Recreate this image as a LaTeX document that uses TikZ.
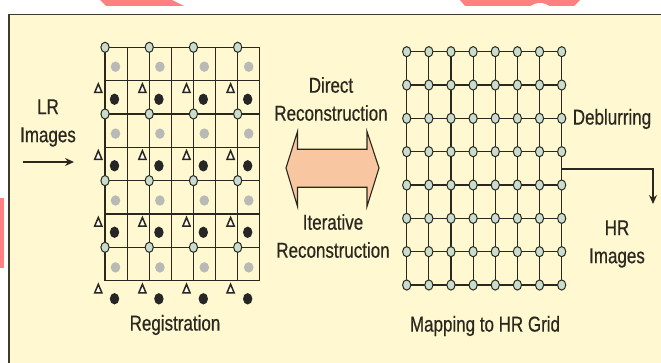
\documentclass[tikz,border=0pt]{standalone}
\usepackage{fontspec}
\setmainfont{Liberation Sans}[FakeStretch=0.79,FakeBold=0.5]
\usetikzlibrary{arrows.meta}
\definecolor{bg}{HTML}{FFF8D0}
\definecolor{frm}{HTML}{3E3A2C}
\definecolor{ink}{HTML}{2A271F}
\definecolor{gnode}{HTML}{C9DDCF}
\definecolor{gdot}{HTML}{B9B9B5}
\definecolor{peach}{HTML}{F8C7A1}
\definecolor{wm}{HTML}{FF8080}
\tikzset{
  gridline/.style={draw=ink, line width=1.2pt},
  gnodestyle/.style={draw=ink, fill=gnode, line width=1pt},
  lbl/.style={text=ink, font=\fontsize{21.5}{25}\selectfont, align=center, inner sep=0pt},
  tri/.style={draw=ink, fill=white, line width=1.5pt, line join=miter},
  arr/.style={draw=ink, line width=1.5pt, -{Stealth[length=9pt,width=8pt,inset=3pt]}},
}
\begin{document}
\begin{tikzpicture}[x=1pt,y=-1pt]
\useasboundingbox (0,0) rectangle (661,363);
\fill[white] (0,0) rectangle (661,363);
% watermark fragments
\fill[wm] (100,0) -- (172,0) -- (184,6) -- (106,6) -- cycle;
\fill[wm] (460,0) -- (580,0) -- (574,6) -- (465,6) -- cycle;
\fill[white] (540,18) circle (15);
\fill[wm] (0,198) rectangle (4,268);
% frame
\fill[bg] (9,14.5) rectangle (661,363);
\draw[frm, line width=1.8pt] (9,363) -- (9,14.5) -- (661,14.5);

% ---------- left grid (Registration)
\foreach \i in {0,...,7} {
  \draw[gridline] ({105+22.1*\i},47.3) -- ({105+22.1*\i},280.7);
  \draw[gridline] (105,{47.3+33.34*\i}) -- (259.7,{47.3+33.34*\i});
}
\foreach \i in {0,...,3} {
  \foreach \j in {0,...,3} {
    \fill[gdot] ({115.5+44.4*\i},{66.7+66.9*\j}) ellipse (4.8 and 5.2);
    \fill[black!85] ({114.5+44.4*\i},{99.3+66.5*\j}) ellipse (4.7 and 5.7);
    \draw[tri] ({98.3+44.1*\i-3.6},{88.3+66.8*\j+4.2}) -- ({98.3+44.1*\i},{88.3+66.8*\j-4.4}) -- ({98.3+44.1*\i+3.6},{88.3+66.8*\j+4.2}) -- cycle;
    \draw[gnodestyle] ({105+44.23*\i},{47.3+66.67*\j}) ellipse (4.1 and 5.1);
  }
}
\node[lbl] (reg) at (175,325) {Registration};

% ---------- right grid (HR)
\foreach \i in {0,...,7} {
  \draw[gridline] ({406.7+22.14*\i},51.7) -- ({406.7+22.14*\i},285);
  \draw[gridline] (406.7,{51.7+33.33*\i}) -- (561.7,{51.7+33.33*\i});
}
\foreach \i in {0,...,7} {
  \foreach \j in {0,...,7} {
    \draw[gnodestyle] ({406.7+22.14*\i},{51.7+33.33*\j}) ellipse (4.1 and 5.1);
  }
}
\node[lbl] (map) at (485,326) {Mapping to HR Grid};

% ---------- LR input
\node[lbl] (lr) at (48,123) {LR\\[3pt]Images};
\coordinate (lrs) at (23,162);
\coordinate (lre) at (74,162);
\draw[arr] (lrs) -- (lre);

% ---------- center double arrow
\draw[ink, line width=1.1pt, fill=peach, line join=miter]
  (286,168) -- (297.5,131.5) -- (297.5,149.3) -- (367,149.3) -- (367,131.5)
  -- (379,168) -- (367,206.5) -- (367,187.3) -- (297.5,187.3) -- (297.5,206.5) -- cycle;
\node[lbl] (dir) at (331,99) {Direct\\[3pt]Reconstruction};
\node[lbl] (itr) at (333,236) {Iterative\\[3pt]Reconstruction};

% ---------- output
\node[lbl] (deb) at (612,119) {Deblurring};
\node[lbl] (hr) at (617,244) {HR\\[3pt]Images};
\coordinate (os) at (561.7,169);
\coordinate (oc) at (653,169);
\coordinate (oe) at (653,204);
\draw[arr] (os) -- (oc) -- (oe);
\end{tikzpicture}
\end{document}
